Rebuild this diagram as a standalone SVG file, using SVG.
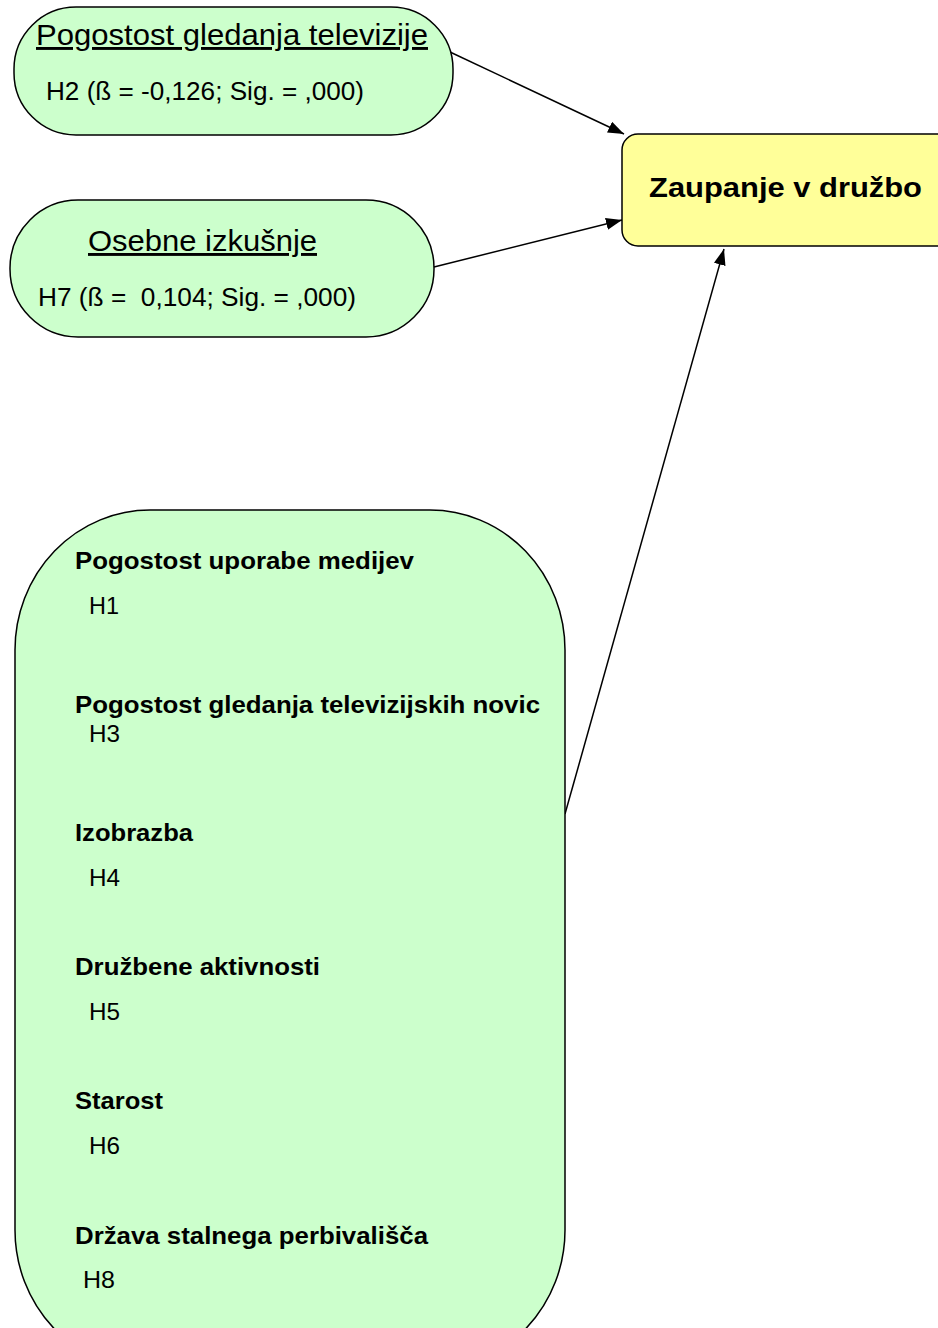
<svg xmlns="http://www.w3.org/2000/svg" width="938" height="1328" viewBox="0 0 938 1328">
<style>
.g{fill:#ccffcc;stroke:#000;stroke-width:1.5}
.y{fill:#ffff99;stroke:#000;stroke-width:1.5}
text{font-family:"Liberation Sans",Arial,sans-serif;fill:#000}
.t{font-size:29px;text-decoration:underline}
.s{font-size:25px}
.b{font-size:24px;font-weight:bold}
.h{font-size:24px}
</style>
<defs>
<marker id="a" viewBox="0 0 10 10" refX="10" refY="5" markerWidth="16" markerHeight="12" markerUnits="userSpaceOnUse" orient="auto" preserveAspectRatio="none">
<path d="M0,0 L10,5 L0,10 z" fill="#000"/>
</marker>
</defs>
<g id="connectors" stroke="#000" stroke-width="1.5" marker-end="url(#a)">
<line x1="450" y1="52" x2="624" y2="134"/>
<line x1="434" y1="267" x2="622" y2="220"/>
<line x1="565" y1="814" x2="724" y2="249"/>
</g>
<g id="node-tv">
<rect class="g" x="14" y="7" width="439" height="128" rx="62" ry="62"/>
<text class="t" x="36" y="45" textLength="392" lengthAdjust="spacingAndGlyphs">Pogostost gledanja televizije</text>
<text class="s" x="46" y="100" textLength="318" lengthAdjust="spacingAndGlyphs">H2 (ß = -0,126; Sig. = ,000)</text>
</g>
<g id="node-izkusnje">
<rect class="g" x="10" y="200" width="424" height="137" rx="68" ry="68"/>
<text class="t" x="88" y="251" textLength="229" lengthAdjust="spacingAndGlyphs">Osebne izkušnje</text>
<text class="s" x="38" y="306" xml:space="preserve" textLength="318" lengthAdjust="spacingAndGlyphs">H7 (ß =  0,104; Sig. = ,000)</text>
</g>
<g id="node-zaupanje">
<rect class="y" x="622" y="134" width="340" height="112" rx="16" ry="16"/>
<text x="649" y="197" style="font-size:27px;font-weight:bold" textLength="273" lengthAdjust="spacingAndGlyphs">Zaupanje v družbo</text>
</g>
<g id="node-ostalo">
<rect class="g" x="15" y="510" width="550" height="860" rx="135" ry="140"/>
<text class="b" x="75" y="569" textLength="339" lengthAdjust="spacingAndGlyphs">Pogostost uporabe medijev</text>
<text class="h" x="89" y="614" textLength="30" lengthAdjust="spacingAndGlyphs">H1</text>
<text class="b" x="75" y="713" textLength="465" lengthAdjust="spacingAndGlyphs">Pogostost gledanja televizijskih novic</text>
<text class="h" x="89" y="742" textLength="31" lengthAdjust="spacingAndGlyphs">H3</text>
<text class="b" x="75" y="841" textLength="118" lengthAdjust="spacingAndGlyphs">Izobrazba</text>
<text class="h" x="89" y="886" textLength="31" lengthAdjust="spacingAndGlyphs">H4</text>
<text class="b" x="75" y="975" textLength="245" lengthAdjust="spacingAndGlyphs">Družbene aktivnosti</text>
<text class="h" x="89" y="1020" textLength="31" lengthAdjust="spacingAndGlyphs">H5</text>
<text class="b" x="75" y="1109" textLength="88" lengthAdjust="spacingAndGlyphs">Starost</text>
<text class="h" x="89" y="1154" textLength="31" lengthAdjust="spacingAndGlyphs">H6</text>
<text class="b" x="75" y="1244" textLength="353" lengthAdjust="spacingAndGlyphs">Država stalnega perbivališča</text>
<text class="h" x="83" y="1288" textLength="32" lengthAdjust="spacingAndGlyphs">H8</text>
</g>
</svg>
